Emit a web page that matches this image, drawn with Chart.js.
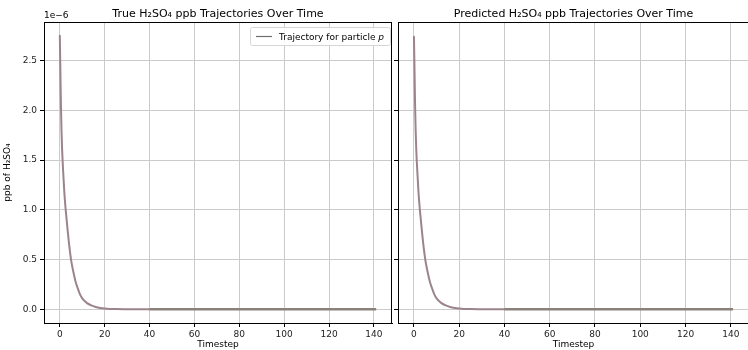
<!DOCTYPE html>
<html>
<head>
<meta charset="utf-8">
<script src="https://cdn.jsdelivr.net/npm/chart.js@4.4.1/dist/chart.umd.min.js"></script>
<style>
  body { margin: 0; background: #fff; width: 748px; height: 350px; overflow: hidden; position: relative; }
  canvas { position: absolute; top: 0; }
</style>
</head>
<body>
<canvas id="chartTrue" width="395" height="350" style="left:0px"></canvas>
<canvas id="chartPred" width="360" height="350" style="left:390px"></canvas>
<script>
// datos (ppb de H2SO4 por timestep)
const timesTrue = [0, 0.25, 0.5, 0.75, 1, 1.5, 2, 2.5, 3, 3.5, 4, 5, 6, 7, 8, 9, 10, 12, 14, 16, 18, 20, 22, 25, 30, 40];
const ppbTrue = [2.75e-6, 2.40e-6, 2.05e-6, 1.80e-6, 1.62e-6, 1.38e-6, 1.18e-6, 1.03e-6, 0.91e-6, 0.79e-6, 0.68e-6, 0.50e-6, 0.38e-6, 0.28e-6, 0.21e-6, 0.15e-6, 0.11e-6, 0.065e-6, 0.04e-6, 0.024e-6, 0.014e-6, 0.008e-6, 0.004e-6, 0.002e-6, 0.001e-6, 0];

const timesPred = [0, 0.25, 0.5, 0.75, 1, 1.5, 2, 2.5, 3, 3.5, 4, 5, 6, 7, 8, 9, 10, 12, 14, 16, 18, 20, 22, 25, 30, 40];
const ppbPred = [2.74e-6, 2.40e-6, 2.05e-6, 1.80e-6, 1.62e-6, 1.38e-6, 1.18e-6, 1.03e-6, 0.91e-6, 0.79e-6, 0.68e-6, 0.50e-6, 0.38e-6, 0.28e-6, 0.21e-6, 0.15e-6, 0.11e-6, 0.065e-6, 0.04e-6, 0.024e-6, 0.014e-6, 0.008e-6, 0.004e-6, 0.002e-6, 0.001e-6, 0];

// tramo plano del final de las trayectorias
const timesTail = [40, 141];
const ppbTail = [0, 0];

const xTicks = [0, 20, 40, 60, 80, 100, 120, 140];
const yTicks = [0, 0.5e-6, 1.0e-6, 1.5e-6, 2.0e-6, 2.5e-6];

const titleTrue = 'True H\u2082SO\u2084 ppb Trajectories Over Time';
const titlePred = 'Predicted H\u2082SO\u2084 ppb Trajectories Over Time';
const yLabel = 'ppb of H\u2082SO\u2084';
const xLabel = 'Timestep';
const legendLabel = 'Trajectory for particle ';

const FONT = 'DejaVu Sans';

function toPoints(xs, ys) {
    return xs.map((x, i) => ({ x: x, y: ys[i] }));
}

// marco, titulo y extras dibujados a mano
function extrasPlugin(title, isLeft) {
    return {
        id: 'extras',
        afterDraw(chart) {
            const ctx = chart.ctx;
            const a = chart.chartArea;
            ctx.save();
            ctx.strokeStyle = '#000';
            ctx.lineWidth = 1;
            ctx.strokeRect(Math.round(a.left) + 0.5, Math.round(a.top) + 0.5, Math.round(a.right - a.left) - 1, Math.round(a.bottom - a.top));
            ctx.fillStyle = '#000';
            ctx.font = '11px "' + FONT + '"';
            ctx.textAlign = 'center';
            ctx.textBaseline = 'alphabetic';
            ctx.fillText(title, (a.left + a.right) / 2, 17);
            if (isLeft) {
                ctx.font = '9px "' + FONT + '"';
                ctx.textAlign = 'left';
                ctx.fillText('1e\u22126', a.left, 18);
                // leyenda
                const bx = 250, by = 27, bw = 140, bh = 18;
                ctx.fillStyle = 'rgba(255,255,255,0.85)';
                ctx.strokeStyle = '#d6d6d6';
                ctx.beginPath();
                ctx.roundRect(bx + 0.5, by + 0.5, bw, bh, 2);
                ctx.fill();
                ctx.stroke();
                ctx.strokeStyle = '#6f6f6f';
                ctx.lineWidth = 1.2;
                ctx.beginPath();
                ctx.moveTo(256, 36.5);
                ctx.lineTo(272, 36.5);
                ctx.stroke();
                ctx.fillStyle = '#000';
                ctx.font = '9px "' + FONT + '"';
                ctx.fillText(legendLabel, 279, 40);
                const w = ctx.measureText(legendLabel).width;
                ctx.font = 'italic 9px "' + FONT + '"';
                ctx.fillText('p', 279 + w, 40);
            }
            ctx.restore();
        }
    };
}

function createChart(canvasId, times, values, title, isLeft) {
    const ctx = document.getElementById(canvasId).getContext('2d');
    return new Chart(ctx, {
        type: 'line',
        data: {
            datasets: [
                {
                    data: toPoints(timesTail, ppbTail),
                    borderColor: '#8a817b',
                    borderWidth: 2.6,
                    pointRadius: 0,
                    tension: 0
                },
                {
                    data: toPoints(times, values),
                    borderColor: '#9b858b',
                    borderWidth: 2,
                    borderJoinStyle: 'round',
                    borderCapStyle: 'round',
                    cubicInterpolationMode: 'monotone',
                    pointRadius: 0
                }
            ]
        },
        options: {
            responsive: false,
            animation: false,
            events: [],
            layout: { padding: { top: 22, right: isLeft ? 3 : 1, left: 0, bottom: 0 } },
            plugins: { legend: { display: false }, tooltip: { enabled: false } },
            scales: {
                x: {
                    type: 'linear',
                    min: -7.05,
                    max: 148.05,
                    afterBuildTicks: s => { s.ticks = xTicks.map(v => ({ value: v })); },
                    afterFit: s => { s.height = 27; },
                    grid: { color: '#cbcbcb', lineWidth: 1, tickColor: '#000', tickLength: 4 },
                    border: { color: '#000', width: 1 },
                    ticks: { color: '#222', padding: 2, font: { family: FONT, size: 9 }, maxRotation: 0 },
                    title: { display: true, text: xLabel, color: '#000', padding: { top: 0, bottom: 0 }, font: { family: FONT, size: 9 } }
                },
                y: {
                    type: 'linear',
                    min: -0.1375e-6,
                    max: 2.8875e-6,
                    afterBuildTicks: s => { s.ticks = yTicks.map(v => ({ value: v })); },
                    afterFit: s => { s.width = isLeft ? 44 : 8; },
                    grid: { color: '#cbcbcb', lineWidth: 1, tickColor: '#000', tickLength: 4 },
                    border: { color: '#000', width: 1 },
                    ticks: {
                        display: isLeft,
                        color: '#222',
                        padding: 3,
                        font: { family: FONT, size: 9 },
                        callback: v => (v * 1e6).toFixed(1)
                    },
                    title: { display: isLeft, text: yLabel, color: '#000', padding: { top: 2, bottom: 2 }, font: { family: FONT, size: 9 } }
                }
            }
        },
        plugins: [extrasPlugin(title, isLeft)]
    });
}

createChart('chartTrue', timesTrue, ppbTrue, titleTrue, true);
createChart('chartPred', timesPred, ppbPred, titlePred, false);
</script>
</body>
</html>
